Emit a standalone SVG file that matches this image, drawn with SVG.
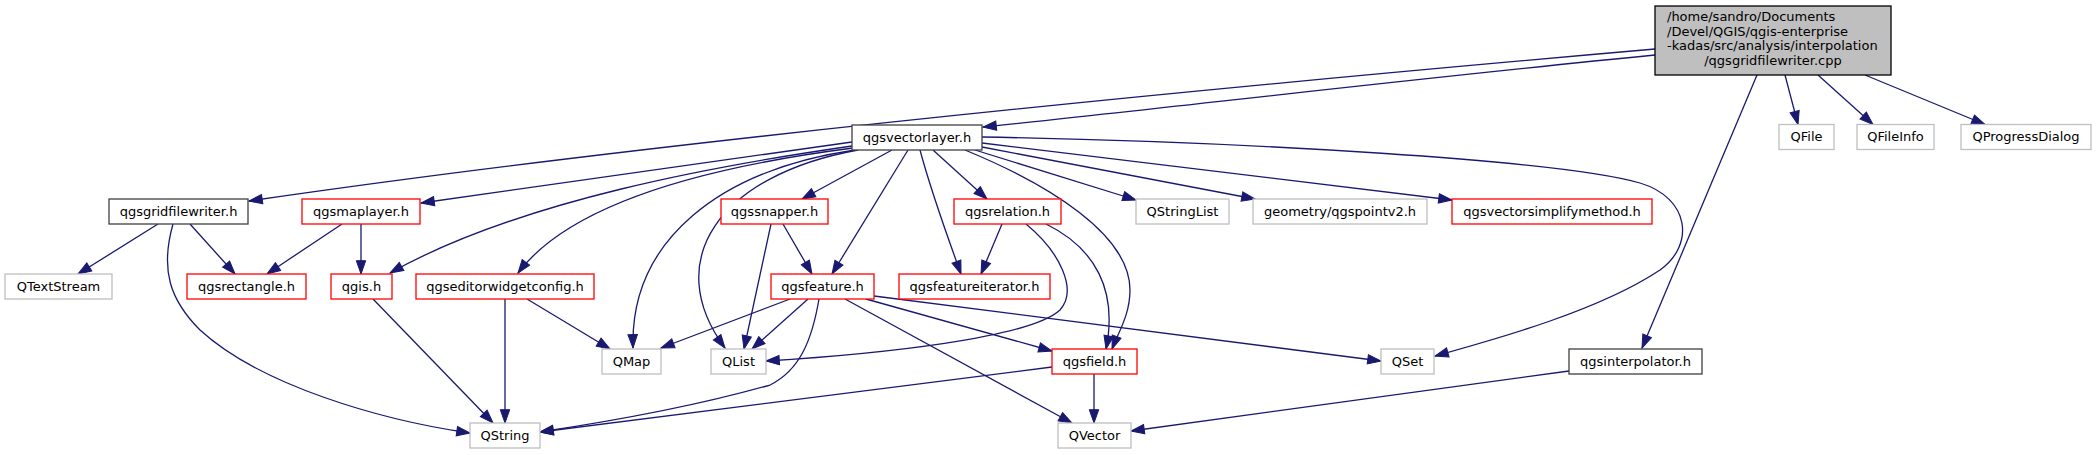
<svg xmlns="http://www.w3.org/2000/svg" width="2097" height="455" viewBox="0 0 2097 455">
<style>
  .n rect { fill: #ffffff; stroke-width: 1.3; }
  .blk rect { stroke: #404040; }
  .red rect { stroke: #ff0000; }
  .gry rect { stroke: #bfbfbf; }
  .root rect { fill: #bfbfbf; stroke: #000000; }
  text { font-family: "DejaVu Sans", sans-serif; font-size: 13px; fill: #000000; }
  .c { text-anchor: middle; }
  #edges path { fill: none; stroke: #191970; stroke-width: 1.3; marker-end: url(#arr); }
</style>
<defs>
  <marker id="arr" markerUnits="userSpaceOnUse" markerWidth="14" markerHeight="10" viewBox="0 0 14 9.4" refX="13.3" refY="4.7" orient="auto" overflow="visible">
    <path d="M0,0 L13.3,4.7 L0,9.4 Z" fill="#191970" stroke="#191970" stroke-width="1"/>
  </marker>
</defs>
<rect x="0" y="0" width="2097" height="455" fill="#ffffff"/>
<g id="edges">
  <path d="M1655,49 C1300,80 700,135 249,201"/>
  <path d="M1655,55 C1400,80 1150,110 983,127"/>
  <path d="M1757,75 L1642,348"/>
  <path d="M1785,75 L1798,124.5"/>
  <path d="M1818,75 L1873,124.5"/>
  <path d="M1865,75 L1985,124.5"/>
  <path d="M852,142 C700,163 550,185 421,203"/>
  <path d="M852,146 C720,165 520,200 390,273"/>
  <path d="M853,148 C760,160 580,190 518,273"/>
  <path d="M855,150 C720,170 630,240 633,348"/>
  <path d="M858,150 C720,175 660,260 725,348"/>
  <path d="M892,150 L802,199"/>
  <path d="M908,150 L832,274"/>
  <path d="M920,150 C928,180 945,230 961,274"/>
  <path d="M933,150 L987,199"/>
  <path d="M965,150 C1050,185 1130,235 1130,290 C1130,315 1118,333 1112,349"/>
  <path d="M975,150 L1136,200"/>
  <path d="M982,147 L1255,199"/>
  <path d="M982,143 L1452,200"/>
  <path d="M982,137 C1250,142 1560,160 1640,183 C1690,198 1695,245 1660,270 C1600,310 1500,338 1435,356"/>
  <path d="M158,224 L78,274"/>
  <path d="M190,224 L235,274"/>
  <path d="M173,224 C160,270 170,300 200,330 C260,385 380,420 470,433"/>
  <path d="M342,224 L267,274"/>
  <path d="M361,224 L361,274"/>
  <path d="M373,299 L493,423"/>
  <path d="M505,299 L505,423"/>
  <path d="M527,299 L610,349"/>
  <path d="M771,224 L744,349"/>
  <path d="M783,224 L812,274"/>
  <path d="M1002,224 L981,274"/>
  <path d="M1026,224 C1060,252 1078,290 1060,310 C1030,338 880,354 766,361"/>
  <path d="M1046,224 C1095,248 1118,290 1106,349"/>
  <path d="M790,299 L661,348"/>
  <path d="M808,299 L752,349"/>
  <path d="M819,299 C812,340 800,370 770,385 C700,405 620,420 540,432"/>
  <path d="M866,299 L1052,351"/>
  <path d="M845,299 L1072,423"/>
  <path d="M874,296 L1381,361"/>
  <path d="M1052,367 L540,432"/>
  <path d="M1094,374 L1094,423"/>
  <path d="M1569,371 L1131,431"/>
</g>
<g id="node_root" class="n root">
  <rect x="1655" y="6" width="236" height="69"/>
  <text x="1667" y="21">/home/sandro/Documents</text>
  <text x="1667" y="35.5">/Devel/QGIS/qgis-enterprise</text>
  <text x="1667" y="50">-kadas/src/analysis/interpolation</text>
  <text x="1773" y="64.5" class="c">/qgsgridfilewriter.cpp</text>
</g>
<g id="node_qfile" class="n gry"><rect x="1779" y="124.5" width="55" height="25"/><text x="1806.5" y="141" class="c">QFile</text></g>
<g id="node_qfileinfo" class="n gry"><rect x="1857" y="124.5" width="77" height="25"/><text x="1895.5" y="141" class="c">QFileInfo</text></g>
<g id="node_qprogressdialog" class="n gry"><rect x="1961" y="124.5" width="130" height="25"/><text x="2026" y="141" class="c">QProgressDialog</text></g>
<g id="node_qgsvectorlayer" class="n blk"><rect x="852" y="125" width="130" height="25"/><text x="917" y="141.5" class="c">qgsvectorlayer.h</text></g>
<g id="node_qgsgridfilewriter" class="n blk"><rect x="109" y="199" width="139" height="25"/><text x="178.5" y="215.5" class="c">qgsgridfilewriter.h</text></g>
<g id="node_qgsmaplayer" class="n red"><rect x="302" y="199" width="118" height="25"/><text x="361" y="215.5" class="c">qgsmaplayer.h</text></g>
<g id="node_qgssnapper" class="n red"><rect x="721" y="199" width="107" height="25"/><text x="774.5" y="215.5" class="c">qgssnapper.h</text></g>
<g id="node_qgsrelation" class="n red"><rect x="954" y="199" width="107" height="25"/><text x="1007.5" y="215.5" class="c">qgsrelation.h</text></g>
<g id="node_qstringlist" class="n gry"><rect x="1136" y="199" width="93" height="25"/><text x="1182.5" y="215.5" class="c">QStringList</text></g>
<g id="node_qgspointv2" class="n gry"><rect x="1253" y="199" width="174" height="25"/><text x="1340" y="215.5" class="c">geometry/qgspointv2.h</text></g>
<g id="node_qgsvectorsimplifymethod" class="n red"><rect x="1452" y="199" width="200" height="25"/><text x="1552" y="215.5" class="c">qgsvectorsimplifymethod.h</text></g>
<g id="node_qtextstream" class="n gry"><rect x="5" y="274" width="107" height="25"/><text x="58.5" y="290.5" class="c">QTextStream</text></g>
<g id="node_qgsrectangle" class="n red"><rect x="187" y="274" width="119" height="25"/><text x="246.5" y="290.5" class="c">qgsrectangle.h</text></g>
<g id="node_qgis" class="n red"><rect x="331" y="274" width="61" height="25"/><text x="361.5" y="290.5" class="c">qgis.h</text></g>
<g id="node_qgseditorwidgetconfig" class="n red"><rect x="416" y="274" width="178" height="25"/><text x="505" y="290.5" class="c">qgseditorwidgetconfig.h</text></g>
<g id="node_qgsfeature" class="n red"><rect x="771" y="274" width="103" height="25"/><text x="822.5" y="290.5" class="c">qgsfeature.h</text></g>
<g id="node_qgsfeatureiterator" class="n red"><rect x="899" y="274" width="151" height="25"/><text x="974.5" y="290.5" class="c">qgsfeatureiterator.h</text></g>
<g id="node_qmap" class="n gry"><rect x="602" y="349" width="59" height="25"/><text x="631.5" y="365.5" class="c">QMap</text></g>
<g id="node_qlist" class="n gry"><rect x="711" y="349" width="55" height="25"/><text x="738.5" y="365.5" class="c">QList</text></g>
<g id="node_qgsfield" class="n red"><rect x="1052" y="349" width="85" height="25"/><text x="1094.5" y="365.5" class="c">qgsfield.h</text></g>
<g id="node_qset" class="n gry"><rect x="1381" y="349" width="53" height="25"/><text x="1407.5" y="365.5" class="c">QSet</text></g>
<g id="node_qgsinterpolator" class="n blk"><rect x="1569" y="349" width="133" height="25"/><text x="1635.5" y="365.5" class="c">qgsinterpolator.h</text></g>
<g id="node_qstring" class="n gry"><rect x="470" y="423" width="70" height="25"/><text x="505" y="439.5" class="c">QString</text></g>
<g id="node_qvector" class="n gry"><rect x="1058" y="423" width="73" height="25"/><text x="1094.5" y="439.5" class="c">QVector</text></g>
</svg>
